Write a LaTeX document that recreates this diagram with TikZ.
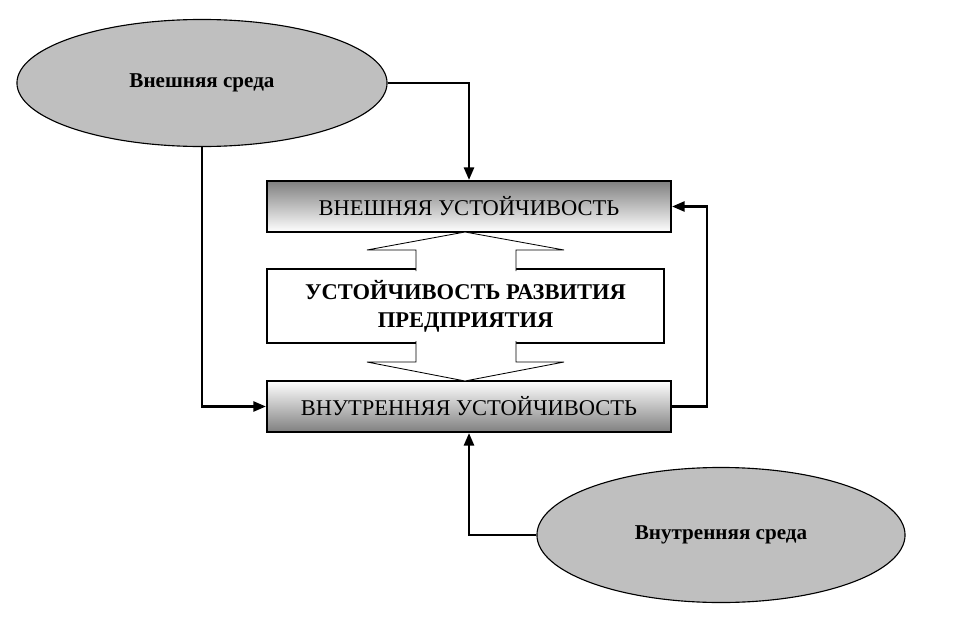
\documentclass[tikz,border=0pt]{standalone}
\usepackage{fontspec}
\setmainfont{Liberation Serif}
\newfontfamily\timesfont{Liberation Serif}
\usetikzlibrary{arrows.meta,shapes.geometric}

\tikzset{
  envnode/.style={ellipse, draw=black, line width=0.8pt, fill=black!25,
    font=\timesfont\fontsize{15}{17}\selectfont\bfseries, inner sep=0pt},
  stabbox/.style={rectangle, draw=black, line width=1.3pt,
    font=\timesfont\fontsize{16}{19}\selectfont, minimum width=10.1cm, minimum height=1.275cm},
  link/.style={line width=2pt, -{Triangle[length=9pt,width=7pt]}},
  flowarrow/.style={draw=black, line width=0.6pt, fill=white}
}

\begin{document}
\begin{tikzpicture}[x=0.025cm, y=-0.025cm]
\useasboundingbox (0,0) rectangle (961,618);

% environments
\node[envnode, minimum width=9.25cm, minimum height=3.175cm] (outerenv) at (202,83) {Внешняя среда};
\node[envnode, minimum width=9.2cm, minimum height=3.375cm] (innerenv) at (721,535) {Внутренняя среда};

% stability boxes
\node[stabbox, top color=black!50, bottom color=white] (outerstab) at (469,206.5) {ВНЕШНЯЯ УСТОЙЧИВОСТЬ};
\node[stabbox, top color=white, bottom color=black!50] (innerstab) at (469,406.5) {ВНУТРЕННЯЯ УСТОЙЧИВОСТЬ};
\node[rectangle, draw=black, line width=1.3pt, fill=white, minimum width=9.925cm, minimum height=1.85cm,
  align=center, font=\timesfont\fontsize{16}{20}\selectfont\bfseries] (devstab) at (465.5,306)
  {УСТОЙЧИВОСТЬ РАЗВИТИЯ\\ПРЕДПРИЯТИЯ};

% block arrows
\path[flowarrow] (416,271) -- (416,250) -- (367,250) -- (465,232) -- (564,250) -- (516,250) -- (516,271);
\path[flowarrow] (416,341) -- (416,362) -- (367,362) -- (465,381) -- (564,362) -- (516,362) -- (516,341);

% connectors
\draw[link] (outerenv.east) -| (outerstab.north);
\draw[link] (outerenv.south) |- (innerstab.west);
\draw[link] (innerstab.east) -- ++(35,0) |- (outerstab.east);
\draw[link] (innerenv.west) -| (innerstab.south);
\end{tikzpicture}
\end{document}
